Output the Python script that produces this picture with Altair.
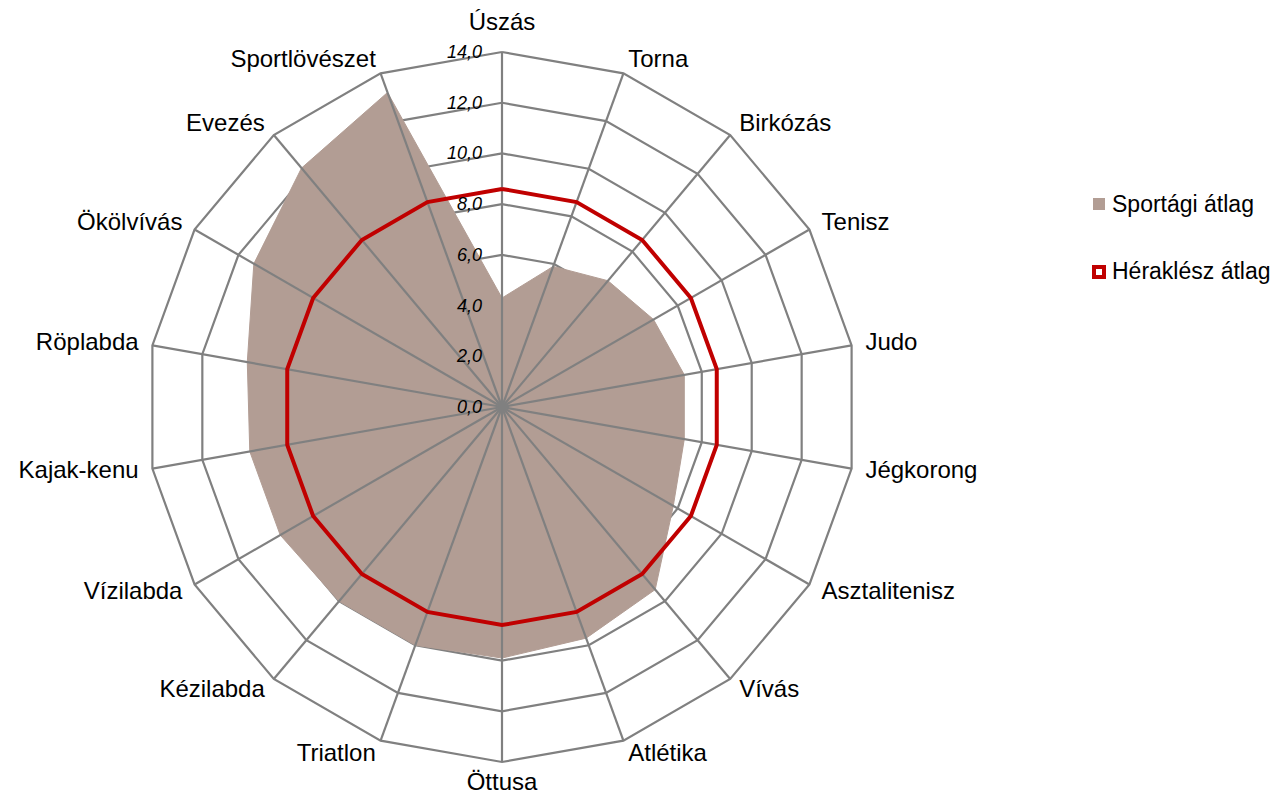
import math
import altair as alt
import pandas as pd

# ---------------- data ----------------
categories = ["Úszás", "Torna", "Birkózás", "Tenisz", "Judo", "Jégkorong",
              "Asztalitenisz", "Vívás", "Atlétika", "Öttusa", "Triatlon",
              "Kézilabda", "Vízilabda", "Kajak-kenu", "Röplabda", "Ökölvívás",
              "Evezés", "Sportlövészet"]
sportagi_atlag = [4.3, 5.9, 6.5, 6.9, 7.3, 7.3, 7.8, 9.4, 9.7, 9.9,
                  10.0, 10.0, 10.1, 10.1, 10.2, 11.3, 12.3, 13.2]
heraklesz_atlag = [8.6, 8.6, 8.6, 8.6, 8.6, 8.6, 8.6, 8.6, 8.6, 8.6,
                   8.6, 8.6, 8.6, 8.6, 8.6, 8.6, 8.6, 8.6]
tick_values = [0, 2, 4, 6, 8, 10, 12, 14]
series_names = ["Sportági átlag", "Héraklész átlag"]

# ---------------- layout ----------------
W, H = 1264, 789
CX, CY = 494, 399            # centre of the radar in plot pixels
RMAX = tick_values[-1]
PX = 355 / RMAX              # pixels per data unit
N = len(categories)

BROWN = "#B29D94"
RED = "#C00000"
GRAY = "#808080"
FONT = "Liberation Sans"

xdom = [-CX / PX, (W - CX) / PX]
ydom = [-(H - CY) / PX, CY / PX]
XS = alt.Scale(domain=xdom, nice=False, zero=False)
YS = alt.Scale(domain=ydom, nice=False, zero=False)

# table for the series (closing point repeated)
rows = []
for i in range(N + 1):
    k = i % N
    rows.append({"idx": i, "cat": categories[k],
                 "s": sportagi_atlag[k], "h": heraklesz_atlag[k]})
df = pd.DataFrame(rows)

ring_rows = []
for t in tick_values[1:]:
    for i in range(N + 1):
        ring_rows.append({"r": t, "idx": i})
rings_df = pd.DataFrame(ring_rows)

ticks_df = pd.DataFrame({"t": tick_values})

TH = f"datum.idx * 2 * PI / {N}"

def X(f):
    return alt.X(f + ":Q", scale=XS, axis=None)

def Y(f):
    return alt.Y(f + ":Q", scale=YS, axis=None)

base = alt.Chart(df).transform_calculate(th=TH)

area = base.transform_calculate(
    x="datum.s * sin(datum.th)", y="datum.s * cos(datum.th)"
).mark_line(fill=BROWN, stroke=BROWN, strokeWidth=1).encode(
    x=X("x"), y=Y("y"), order="idx:Q")

rings = alt.Chart(rings_df).transform_calculate(
    th=TH, x="datum.r * sin(datum.th)", y="datum.r * cos(datum.th)"
).mark_line(color=GRAY, strokeWidth=2.2).encode(
    x=X("x"), y=Y("y"), detail="r:N", order="idx:Q")

spokes = base.transform_filter(f"datum.idx < {N}").transform_calculate(
    x0="0", y0="0",
    x1=f"{RMAX} * sin(datum.th)", y1=f"{RMAX} * cos(datum.th)"
).mark_rule(color=GRAY, strokeWidth=2.2).encode(
    x=X("x0"), y=Y("y0"), x2="x1:Q", y2="y1:Q")

red = base.transform_calculate(
    x="datum.h * sin(datum.th)", y="datum.h * cos(datum.th)"
).mark_line(color=RED, strokeWidth=4).encode(
    x=X("x"), y=Y("y"), order="idx:Q")

tick_labels = alt.Chart(ticks_df).transform_calculate(
    x="0", y="datum.t", lab="replace(format(datum.t, '.1f'), '.', ',')"
).mark_text(font=FONT, fontSize=18, fontStyle="italic", align="right",
            baseline="middle", dx=-20, dy=1, color="#000000").encode(
    x=X("x"), y=Y("y"), text="lab:N")

side_r = RMAX + 14 / PX
top_r = RMAX + 29 / PX
bot_r = RMAX + 21 / PX

def cat_layer(flt, rad, align):
    return base.transform_filter(flt).transform_calculate(
        x=f"{rad} * sin(datum.th)", y=f"{rad} * cos(datum.th)"
    ).mark_text(font=FONT, fontSize=24, align=align, baseline="middle",
                color="#000000").encode(x=X("x"), y=Y("y"), text="cat:N")

cat_right = cat_layer(f"datum.idx > 0 && datum.idx < {N // 2}", side_r, "left")
cat_left = cat_layer(f"datum.idx > {N // 2} && datum.idx < {N}", side_r, "right")
cat_top = cat_layer("datum.idx == 0", top_r, "center")
cat_bot = cat_layer(f"datum.idx == {N // 2}", bot_r, "center")

leg_df = pd.DataFrame({"name": series_names, "k": [0, 1]})
leg_brown = alt.Chart(leg_df).transform_filter("datum.k == 0").mark_square(
    size=144, color=BROWN, opacity=1).encode(x=alt.value(1091), y=alt.value(196))
leg_red = alt.Chart(leg_df).transform_filter("datum.k == 1").mark_square(
    size=100, fill="#FFFFFF", stroke=RED, strokeWidth=4, opacity=1,
    fillOpacity=1).encode(x=alt.value(1091), y=alt.value(264))

def leg_text(k, ypos):
    return alt.Chart(leg_df).transform_filter(f"datum.k == {k}").mark_text(
        font=FONT, fontSize=23, align="left", baseline="middle",
        color="#000000").encode(x=alt.value(1104), y=alt.value(ypos), text="name:N")

chart = alt.layer(rings, area, spokes, red, tick_labels,
                  cat_right, cat_left, cat_top, cat_bot,
                  leg_brown, leg_red, leg_text(0, 197), leg_text(1, 264)).properties(
    width=W, height=H, padding=0,
    autosize=alt.AutoSizeParams(type="none"),
    background="#FFFFFF"
).configure_view(stroke=None)

chart.save("out.html", embed_options={"renderer": "svg", "actions": False})
